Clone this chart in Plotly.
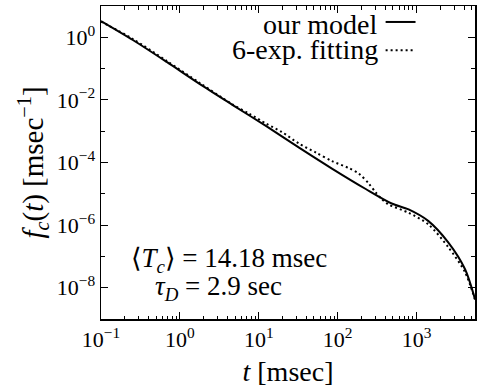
import plotly.graph_objects as go

# ---- data (t in msec, f_c in msec^-1) ----
t_model = [0.1, 0.2535, 0.681, 1.774, 4.63, 12.45, 32.4, 84.6, 227, 484, 793, 1416, 2535, 4121, 5508]
f_model = [3.30, 0.820, 0.163, 0.0326, 0.00698, 0.001443, 2.985e-4, 6.40e-5, 1.422e-5,
           4.91e-6, 3.16e-6, 1.34e-6, 2.75e-7, 3.88e-8, 4.31e-9]

t_fit = [0.1, 0.2535, 0.681, 1.774, 4.63, 7.59, 12.45, 19.8, 32.4, 53.2, 84.6, 138.7, 185,
         248, 304, 361, 443, 793, 1416, 2535, 4121, 5508]
f_fit = [3.19, 0.883, 0.176, 0.0351, 0.00724, 0.00361, 0.001734, 9.29e-4, 4.00e-4, 2.07e-4,
         1.109e-4, 6.64e-5, 4.44e-5, 2.13e-5, 1.10e-5, 6.82e-6, 4.56e-6, 2.48e-6, 1.05e-6,
         1.95e-7, 3.12e-8, 4.15e-9]

legend_labels = ["our model", "6-exp. fitting"]

x_major = [0.1, 1, 10, 100, 1000]
x_major_text = ["10<sup>−1</sup>", "10<sup>0</sup>", "10<sup>1</sup>", "10<sup>2</sup>", "10<sup>3</sup>"]
y_major = [1e-8, 1e-6, 1e-4, 1e-2, 1]
y_major_text = ["10<sup>−8</sup>", "10<sup>−6</sup>", "10<sup>−4</sup>", "10<sup>−2</sup>", "10<sup>0</sup>"]
y_minor = [1e-9, 1e-7, 1e-5, 1e-3, 1e-1, 10]
x_minor = [m * 10 ** e for e in range(-1, 4) for m in range(2, 10)]

FONT = "Liberation Serif, DejaVu Serif, DejaVu Sans, sans-serif"

fig = go.Figure()
fig.add_trace(go.Scatter(x=t_model, y=f_model, mode="lines",
                         line=dict(color="black", width=2, shape="spline", smoothing=0.8),
                         showlegend=False, hoverinfo="skip"))
fig.add_trace(go.Scatter(x=t_fit, y=f_fit, mode="lines",
                         line=dict(color="black", width=2, dash="2px,3px", shape="spline", smoothing=0.8),
                         showlegend=False, hoverinfo="skip"))

axis_common = dict(showline=True, linecolor="black", linewidth=1.5, mirror="allticks",
                   ticks="inside", ticklen=7, tickwidth=1, tickcolor="black",
                   showgrid=False, zeroline=False, tickfont=dict(family=FONT, size=22, color="black"))

fig.update_xaxes(type="log", range=[-1, 3.741], tickmode="array", tickvals=x_major, ticktext=x_major_text,
                 minor=dict(tickmode="array", tickvals=x_minor, ticks="inside", ticklen=3.5,
                            tickcolor="black", tickwidth=1),
                 title=dict(text="<i>t</i> [msec]", font=dict(family=FONT, size=28, color="black"), standoff=10),
                 **axis_common)
fig.update_yaxes(type="log", range=[-9, 1], tickmode="array", tickvals=y_major, ticktext=y_major_text,
                 minor=dict(tickmode="array", tickvals=y_minor, ticks="inside", ticklen=4,
                            tickcolor="black", tickwidth=1),
                 title=dict(text="<i>f<sub>c</sub></i>(<i>t</i>) [msec<sup>−1</sup>]",
                            font=dict(family=FONT, size=29, color="black"), standoff=4),
                 **axis_common)

# legend with the sample line to the right of each label, as in the reference
fig.add_annotation(xref="paper", yref="paper", x=0.747, y=0.942, xanchor="right", yanchor="middle",
                   text=legend_labels[0], showarrow=False, font=dict(family=FONT, size=28, color="black"))
fig.add_annotation(xref="paper", yref="paper", x=0.747, y=0.862, xanchor="right", yanchor="middle",
                   text=legend_labels[1], showarrow=False, font=dict(family=FONT, size=28, color="black"))
fig.add_shape(type="line", xref="paper", yref="paper", x0=0.761, x1=0.841, y0=0.949, y1=0.949,
              line=dict(color="black", width=2))
fig.add_shape(type="line", xref="paper", yref="paper", x0=0.761, x1=0.841, y0=0.859, y1=0.859,
              line=dict(color="black", width=2, dash="2px,3px"))

fig.add_annotation(xref="paper", yref="paper", x=0.342, y=0.19, xanchor="center", yanchor="middle",
                   text="⟨<i>T<sub>c</sub></i>⟩ = 14.18 msec", showarrow=False,
                   font=dict(family=FONT, size=27, color="black"))
fig.add_annotation(xref="paper", yref="paper", x=0.313, y=0.10, xanchor="center", yanchor="middle",
                   text="<i>τ<sub>D</sub></i> = 2.9 sec", showarrow=False,
                   font=dict(family=FONT, size=27, color="black"))

fig.update_layout(width=477, height=391, margin=dict(l=101, r=0, t=6, b=72),
                  plot_bgcolor="white", paper_bgcolor="white", hovermode=False)

fig.write_html("out.html", config={"displayModeBar": False, "staticPlot": True},
               post_script="document.body.style.margin='0px';document.body.style.overflow='hidden';")
